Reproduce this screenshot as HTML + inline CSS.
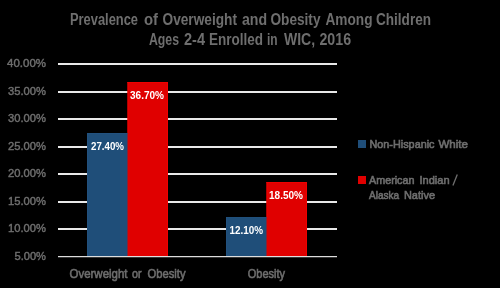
<!DOCTYPE html>
<html><head><meta charset="utf-8">
<style>
html,body{margin:0;padding:0;background:#000;}
body{width:500px;height:288px;overflow:hidden;position:relative;}
svg{position:absolute;left:0;top:0;will-change:transform;}
text{font-family:"Liberation Sans",sans-serif;}
</style></head>
<body>
<svg width="500" height="288" viewBox="0 0 500 288">
<rect x="0" y="0" width="500" height="288" fill="#000"/>
<g fill="#6e6e6e" font-weight="bold" font-size="16">
<text x="70.00" y="25" textLength="68.00" lengthAdjust="spacingAndGlyphs">Prevalence</text>
<text x="144.00" y="25" textLength="14.04" lengthAdjust="spacingAndGlyphs">of</text>
<text x="162.50" y="25" textLength="74.51" lengthAdjust="spacingAndGlyphs">Overweight</text>
<text x="241.95" y="25" textLength="25.09" lengthAdjust="spacingAndGlyphs">and</text>
<text x="270.48" y="25" textLength="50.03" lengthAdjust="spacingAndGlyphs">Obesity</text>
<text x="325.48" y="25" textLength="47.03" lengthAdjust="spacingAndGlyphs">Among</text>
<text x="376.00" y="25" textLength="55.01" lengthAdjust="spacingAndGlyphs">Children</text>
<text x="148.97" y="45" textLength="30.06" lengthAdjust="spacingAndGlyphs">Ages</text>
<text x="184.00" y="45" textLength="21.00" lengthAdjust="spacingAndGlyphs">2-4</text>
<text x="209.00" y="45" textLength="54.01" lengthAdjust="spacingAndGlyphs">Enrolled</text>
<text x="266.95" y="45" textLength="10.61" lengthAdjust="spacingAndGlyphs">in</text>
<text x="283.97" y="45" textLength="31.12" lengthAdjust="spacingAndGlyphs">WIC,</text>
<text x="319.47" y="45" textLength="31.55" lengthAdjust="spacingAndGlyphs">2016</text>
</g>
<g fill="#e8e8e8">
<rect x="58" y="63" width="279" height="2"/>
<rect x="58" y="91" width="279" height="2"/>
<rect x="58" y="118" width="279" height="2"/>
<rect x="58" y="146" width="279" height="2"/>
<rect x="58" y="173" width="279" height="2"/>
<rect x="58" y="201" width="279" height="2"/>
<rect x="58" y="228" width="279" height="2"/>
</g>
<rect x="87" y="133" width="41.5" height="123.5" fill="#1f4e79"/>
<rect x="127.5" y="82" width="40.5" height="174.5" fill="#e00000"/>
<rect x="226" y="217.1" width="41.5" height="39.4" fill="#1f4e79"/>
<rect x="266.5" y="182" width="40.5" height="74.5" fill="#e00000"/>
<g fill="#22517e">
<rect x="87" y="133" width="1" height="123.5"/><rect x="87" y="133" width="40.5" height="1"/>
<rect x="226" y="217.1" width="1" height="39.4"/><rect x="226" y="217.1" width="40.5" height="1"/>
</g>
<g fill="#f00000">
<rect x="127.5" y="82" width="40.5" height="1"/><rect x="167" y="82" width="1" height="174.5"/><rect x="127.5" y="82" width="1" height="51"/>
<rect x="266.5" y="182" width="40.5" height="1"/><rect x="306" y="182" width="1" height="74.5"/><rect x="266.5" y="182" width="1" height="35.1"/>
</g>
<rect x="58" y="256" width="279" height="1.25" fill="#e8e8e8" fill-opacity="0.95"/>
<g fill="#6e6e6e" stroke="#6e6e6e" stroke-width="0.45" font-size="11.8">
<text x="7.00" y="67.4" textLength="39.00" lengthAdjust="spacingAndGlyphs">40.00%</text>
<text x="7.99" y="94.95" textLength="38.01" lengthAdjust="spacingAndGlyphs">35.00%</text>
<text x="7.99" y="122.3" textLength="38.01" lengthAdjust="spacingAndGlyphs">30.00%</text>
<text x="8.00" y="149.5" textLength="38.00" lengthAdjust="spacingAndGlyphs">25.00%</text>
<text x="7.99" y="177.1" textLength="38.01" lengthAdjust="spacingAndGlyphs">20.00%</text>
<text x="7.99" y="204.9" textLength="38.01" lengthAdjust="spacingAndGlyphs">15.00%</text>
<text x="8.00" y="231.75" textLength="38.00" lengthAdjust="spacingAndGlyphs">10.00%</text>
<text x="14.48" y="259.75" textLength="31.52" lengthAdjust="spacingAndGlyphs">5.00%</text>
</g>
<g fill="#6e6e6e" stroke="#6e6e6e" stroke-width="0.6" font-size="12.7">
<text x="69.49" y="277.7" textLength="58.03" lengthAdjust="spacingAndGlyphs">Overweight</text>
<text x="131.95" y="277.7" textLength="9.54" lengthAdjust="spacingAndGlyphs">or</text>
<text x="147.50" y="277.7" textLength="38.02" lengthAdjust="spacingAndGlyphs">Obesity</text>
<text x="247.74" y="277.7" textLength="37.30" lengthAdjust="spacingAndGlyphs">Obesity</text>
</g>
<g fill="#fff" font-weight="bold" font-size="10">
<text x="90.98" y="150.45" textLength="33.06" lengthAdjust="spacingAndGlyphs">27.40%</text>
<text x="130.00" y="99.15" textLength="34.02" lengthAdjust="spacingAndGlyphs">36.70%</text>
<text x="229.49" y="234.45" textLength="33.51" lengthAdjust="spacingAndGlyphs">12.10%</text>
<text x="269.00" y="199.15" textLength="34.00" lengthAdjust="spacingAndGlyphs">18.50%</text>
</g>
<rect x="358" y="140" width="8" height="8" fill="#1f4e79"/>
<rect x="358" y="176" width="8" height="8" fill="#e00000"/>
<g fill="#6e6e6e" stroke="#6e6e6e" stroke-width="0.65" font-size="11.6">
<text x="369.50" y="148" textLength="65.00" lengthAdjust="spacingAndGlyphs">Non-Hispanic</text>
<text x="438.47" y="148" textLength="29.53" lengthAdjust="spacingAndGlyphs">White</text>
<text x="368.98" y="183.5" textLength="45.54" lengthAdjust="spacingAndGlyphs">American</text>
<text x="419.47" y="183.5" textLength="30.07" lengthAdjust="spacingAndGlyphs">Indian</text>
<text x="368.99" y="198.7" textLength="30.04" lengthAdjust="spacingAndGlyphs">Alaska</text>
<text x="403.97" y="198.7" textLength="31.04" lengthAdjust="spacingAndGlyphs">Native</text>
</g>
<line x1="452.9" y1="185.6" x2="457.3" y2="174.4" stroke="#6e6e6e" stroke-width="1.3"/>
</svg>
</body></html>
